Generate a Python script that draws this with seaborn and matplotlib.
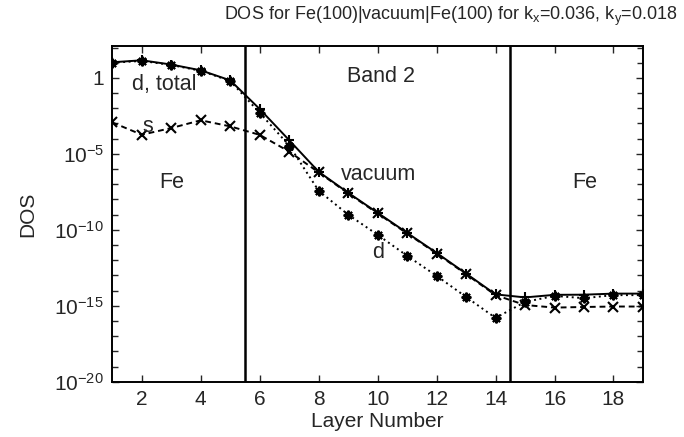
import numpy as np
import pandas as pd
import matplotlib
matplotlib.use("Agg")
import matplotlib.pyplot as plt
import matplotlib.ticker as mticker
import seaborn as sns

# ---- data (log10 of DOS) ----
layers = list(range(1, 20))
total_exp = [1.03, 1.16, 0.88, 0.50, -0.16, -2.05, -4.10, -6.18, -7.56, -8.88,
             -10.20, -11.52, -12.88, -14.25, -14.45, -14.28, -14.27, -14.20, -14.20]
d_exp = [1.00, 1.12, 0.85, 0.47, -0.20, -2.30, -4.45, -7.43, -9.00, -10.33,
         -11.71, -13.03, -14.42, -15.80, -14.75, -14.35, -14.50, -14.30, -14.30]
s_exp = [-2.93, -3.74, -3.30, -2.79, -3.19, -3.75, -4.85, -6.22, -7.60, -8.92,
         -10.24, -11.56, -12.92, -14.30, -14.95, -15.12, -15.08, -15.05, -15.05]
series_names = ["s", "d", "total"]
boundaries = [5.5, 14.5]
ytick_exps = [0, -5, -10, -15, -20]
xtick_vals = [2, 4, 6, 8, 10, 12, 14, 16, 18]
title = r"DOS for Fe(100)|vacuum|Fe(100) for k$_{\mathregular{x}}$=0.036, k$_{\mathregular{y}}$=0.018"

sns.set_style("ticks")
plt.rcParams["font.family"] = ["Liberation Sans", "DejaVu Sans"]
plt.rcParams["mathtext.fontset"] = "custom"
plt.rcParams["mathtext.rm"] = "Liberation Sans"
plt.rcParams["mathtext.it"] = "Liberation Sans:italic"
plt.rcParams["mathtext.bf"] = "Liberation Sans:bold"

exps = {"s": s_exp, "d": d_exp, "total": total_exp}
df = pd.concat([
    pd.DataFrame({"layer": layers, "DOS": 10.0 ** np.array(exps[n]), "series": n})
    for n in series_names
], ignore_index=True)

fig = plt.figure(figsize=(6.84, 4.37), dpi=100)
ax = fig.add_axes([0.1642, 0.1265, 0.940 - 0.1642, 0.8947 - 0.1265])

sns.lineplot(
    data=df, x="layer", y="DOS", hue="series", style="series",
    hue_order=series_names, style_order=series_names,
    palette={n: "black" for n in series_names},
    dashes={"s": (3, 2), "d": (1, 1.8), "total": ""},
    markers={"s": "x", "d": (8, 2, 0), "total": "+"},
    markersize=7, markeredgewidth=1.5, markeredgecolor="black", lw=1.4,
    legend=False, ax=ax,
)

for b in boundaries:
    ax.axvline(b, color="black", lw=1.8)

ax.set_yscale("log")
ax.set_xlim(1, 19)
ax.set_ylim(1e-20, 10 ** 2.1)

ax.yaxis.set_major_locator(mticker.FixedLocator([10.0 ** e for e in ytick_exps]))
ax.yaxis.set_minor_locator(mticker.FixedLocator([10.0 ** e for e in range(-20, 3)]))
ax.yaxis.set_minor_formatter(mticker.NullFormatter())
ax.set_yticklabels(["1" if e == 0 else r"$\mathregular{10^{%d}}$" % e for e in ytick_exps])
ax.set_xticks(xtick_vals)

ax.tick_params(axis="both", which="major", direction="in", length=5, width=1,
               labelsize=15, top=True, right=True, pad=6)
ax.tick_params(axis="y", which="minor", direction="in", length=4, width=1,
               left=True, right=True)
for sp in ax.spines.values():
    sp.set_linewidth(1.4)
    sp.set_color("black")

ax.set_xlabel("Layer Number", fontsize=15, labelpad=2)
ax.set_ylabel("DOS", fontsize=15, labelpad=12)
ax.set_title(title, fontsize=13, pad=19, x=0.638)

tkw = dict(fontsize=15.5, ha="center", va="center")
ax.text(2.76, 10 ** -0.44, "d, total", **tkw)
ax.text(2.21, 10 ** -3.21, "s", **tkw)
ax.text(3.03, 10 ** -6.9, "Fe", **tkw)
ax.text(17.01, 10 ** -6.9, "Fe", **tkw)
ax.text(10.1, 10 ** 0.09, "Band 2", **tkw)
ax.text(10.04, 10 ** -6.37, "vacuum", **tkw)
ax.text(10.02, 10 ** -11.48, "d", **tkw)

fig.savefig("out.png", dpi=100)
